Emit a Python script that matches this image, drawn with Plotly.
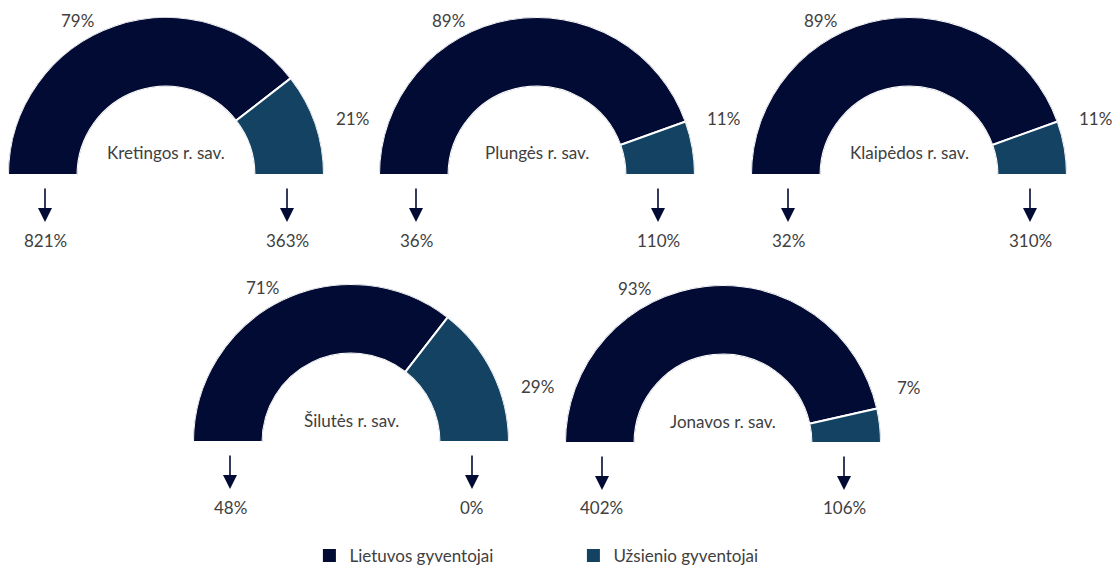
import plotly.graph_objects as go

W, H = 1117, 574

regions = ["Kretingos r. sav.", "Plungės r. sav.", "Klaipėdos r. sav.",
           "Šilutės r. sav.", "Jonavos r. sav."]
lt_share = [79, 89, 89, 71, 93]
foreign_share = [21, 11, 11, 29, 7]
lt_change = ["821%", "36%", "32%", "48%", "402%"]
foreign_change = ["363%", "110%", "310%", "0%", "106%"]
series_names = ["Lietuvos gyventojai", "Užsienio gyventojai"]

DARK = "#020b34"
TEAL = "#134263"
TEXT = "#404040"
FONT = "Lato"
FSIZE = 17

# layout of the gauges (pixel centres of the half donuts)
centres = [(166, 175), (537, 175), (909, 175), (351, 442), (723, 443)]
R = 158


def px(x, y):
    return x / W, 1 - y / H


fig = go.Figure()
annotations = []
layout_polars = {}
font = dict(family=FONT, size=FSIZE, color=TEXT)

for i, region in enumerate(regions):
    cx, cy = centres[i]
    name = "polar" if i == 0 else f"polar{i + 1}"
    lt, fr = lt_share[i], foreign_share[i]
    total = lt + fr
    lt_deg = lt / total * 180
    fr_deg = fr / total * 180

    # Lietuvos gyventojai segment (from the left side, clockwise)
    fig.add_trace(go.Barpolar(
        r=[1], theta=[180 - lt_deg / 2], width=[lt_deg],
        marker=dict(color=DARK, line=dict(color="white", width=2)),
        name=series_names[0], showlegend=False,
        subplot=name, hoverinfo="skip",
    ))
    # Užsienio gyventojai segment (ending at the right side)
    fig.add_trace(go.Barpolar(
        r=[1], theta=[fr_deg / 2], width=[fr_deg],
        marker=dict(color=TEAL, line=dict(color="white", width=2)),
        name=series_names[1], showlegend=False,
        subplot=name, hoverinfo="skip",
    ))

    x0, y1 = px(cx - R, cy - R)
    x1, y0 = px(cx + R, cy)
    layout_polars[name] = dict(
        domain=dict(x=[x0, x1], y=[y0, y1]),
        sector=[0, 180],
        hole=0.56,
        bgcolor="rgba(0,0,0,0)",
        radialaxis=dict(visible=False, range=[0, 1]),
        angularaxis=dict(visible=False),
    )

    def label(x, y, text):
        x, y = px(x, y)
        annotations.append(dict(x=x, y=y, xref="paper", yref="paper", text=text,
                                xanchor="center", yanchor="middle",
                                showarrow=False, font=font))

    # share labels
    label(cx - 89, cy - 155, f"{lt}%")
    label(cx + 186, cy - 56, f"{fr}%")
    # region name
    label(cx, cy - 22, region)
    # change arrows and values
    for text, dx in [(lt_change[i], -121), (foreign_change[i], 121)]:
        x, y = px(cx + dx, cy + 47)
        annotations.append(dict(x=x, y=y, xref="paper", yref="paper", text="",
                                showarrow=True, ax=0, ay=-35, arrowhead=2,
                                arrowsize=1.75, arrowwidth=1.6, arrowcolor=DARK,
                                standoff=0))
        label(cx + dx, cy + 65, text)

# legend entries
for nm, col in zip(series_names, [DARK, TEAL]):
    fig.add_trace(go.Scatter(
        x=[None], y=[None], mode="markers", name=nm,
        marker=dict(symbol="square", size=13, color=col),
    ))

fig.update_xaxes(visible=False)
fig.update_yaxes(visible=False)

fig.update_layout(
    width=W, height=H,
    margin=dict(l=0, r=0, t=0, b=0),
    paper_bgcolor="white",
    plot_bgcolor="white",
    font=font,
    annotations=annotations,
    showlegend=True,
    legend=dict(orientation="h", x=0.277, y=0, xanchor="left", yanchor="bottom",
                bgcolor="rgba(0,0,0,0)", entrywidth=219, font=font),
    **layout_polars,
)

fig.write_html("out.html", config={"displayModeBar": False},
               post_script="document.body.style.margin='0';")
